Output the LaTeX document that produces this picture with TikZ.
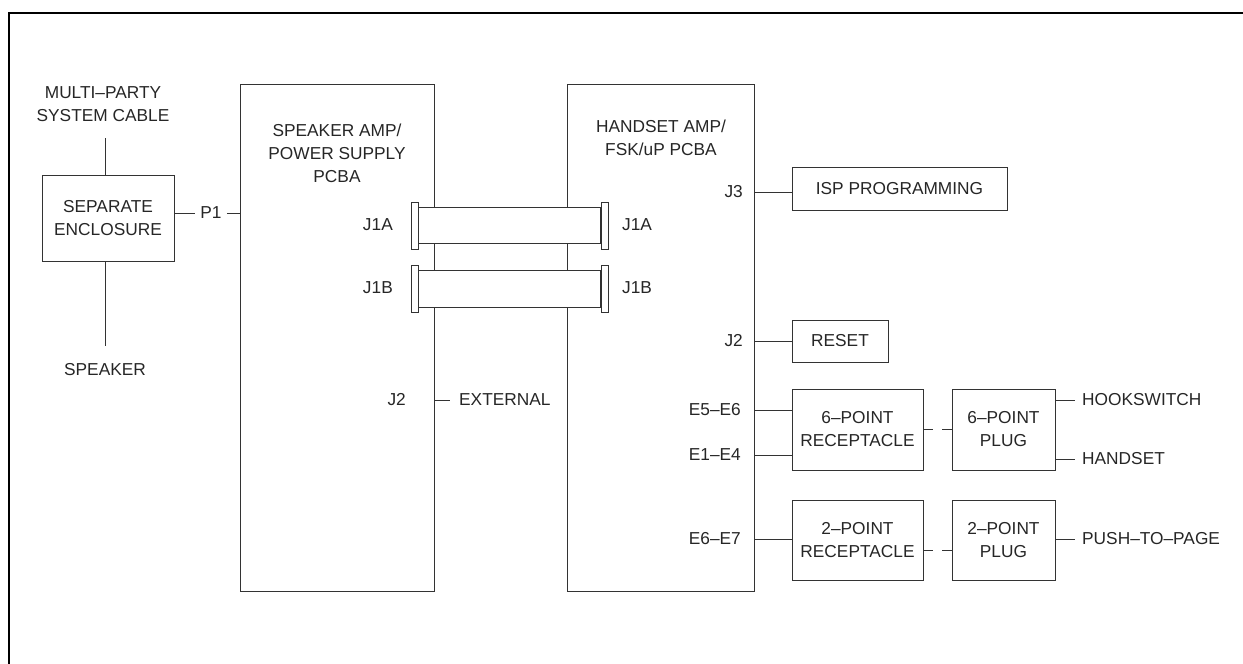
\documentclass[tikz,border=0pt]{standalone}
\usepackage{fontspec}
\setmainfont{Liberation Sans}
\begin{document}
\begin{tikzpicture}[x=1pt,y=-1pt,
  every node/.style={font=\fontsize{17.3}{23}\selectfont, text=black!85},
  lbl/.style={inner sep=0pt, align=center},
  box/.style={draw=black!80, line width=0.9pt, inner sep=0pt, align=center, fill=white},
  conn/.style={draw=black!80, line width=0.9pt, fill=white, inner sep=0pt, minimum width=7pt, minimum height=47pt},
  wire/.style={draw=black!80, line width=0.9pt},
  dwire/.style={wire, dash pattern=on 10pt off 9pt}]
\useasboundingbox (0,0) rectangle (1243,664);
\draw[line width=2pt] (9,664) -- (9,13) -- (1243,13);

% main boards
\node[box, minimum width=194pt, minimum height=507pt] (spk) at (337,337.5) {};
\node[box, minimum width=187pt, minimum height=507pt] (hs) at (660.5,337.5) {};
\node[lbl] (spkt) at (337,153.5) {SPEAKER AMP/\\POWER SUPPLY\\PCBA};
\node[lbl] (hst) at (661,137.5) {HANDSET AMP/\\FSK/uP PCBA};

% separate enclosure
\node[box, minimum width=132pt, minimum height=86pt] (enc) at (108,218) {SEPARATE\\ENCLOSURE};
\node[lbl] (mp) at (103,104) {MULTI--PARTY\\SYSTEM CABLE};
\coordinate (mpc) at (105,138);
\draw[wire] (mpc) -- (mpc |- enc.north);
\node[lbl] (spkr) at (105,370) {SPEAKER};
\coordinate (spc) at (105,346);
\draw[wire] (spc |- enc.south) -- (spc);
\node[lbl, inner xsep=5pt] (p1) at (211,213) {P1};
\draw[wire] (p1.west -| enc.east) -- (p1.west);
\draw[wire] (p1.east) -- (p1.east -| spk.west);

% ribbon cables
\node[conn] (j1al) at (414.5,225.5) {};
\node[conn] (j1ar) at (604.5,225.5) {};
\path[wire, fill=white] ([yshift=18.5pt]j1al.east) rectangle ([yshift=-17.5pt]j1ar.west);
\node[conn] (j1bl) at (414.5,288.5) {};
\node[conn] (j1br) at (604.5,288.5) {};
\path[wire, fill=white] ([yshift=18.5pt]j1bl.east) rectangle ([yshift=-18.5pt]j1br.west);
\node[lbl, anchor=east] (la) at (393,225) {J1A};
\node[lbl, anchor=west] (ra) at (622,225) {J1A};
\node[lbl, anchor=east] (lb) at (393,288) {J1B};
\node[lbl, anchor=west] (rb) at (622,288) {J1B};

% external
\node[lbl, anchor=east] (j2s) at (406,400) {J2};
\node[lbl, anchor=west, inner xsep=9pt] (ext) at (450,400) {EXTERNAL};
\draw[wire] (ext.west -| spk.east) -- (ext.west);

% right side
\node[box, minimum width=215pt, minimum height=43pt] (isp) at (899.5,188.5) {ISP PROGRAMMING};
\node[lbl, anchor=east] (j3) at (743,192) {J3};
\draw[wire] (j3 -| hs.east) -- (j3 -| isp.west);

\node[box, minimum width=96pt, minimum height=42pt] (reset) at (840,341) {RESET};
\node[lbl, anchor=east] (j2h) at (743,341) {J2};
\draw[wire] (j2h -| hs.east) -- (j2h -| reset.west);

\node[box, minimum width=131pt, minimum height=81pt] (rec6) at (857.5,429.5) {6--POINT\\RECEPTACLE};
\node[box, minimum width=103pt, minimum height=81pt] (plug6) at (1003.5,429.5) {6--POINT\\PLUG};
\node[lbl, anchor=east] (e56) at (741,410) {E5--E6};
\node[lbl, anchor=east] (e14) at (741,455) {E1--E4};
\draw[wire] (e56 -| hs.east) -- (e56 -| rec6.west);
\draw[wire] (e14 -| hs.east) -- (e14 -| rec6.west);
\draw[dwire] (rec6.east) -- (plug6.west);
\node[lbl, anchor=west, inner xsep=7pt] (hook) at (1075,400) {HOOKSWITCH};
\node[lbl, anchor=west, inner xsep=7pt] (hset) at (1075,459) {HANDSET};
\draw[wire] (hook.west -| plug6.east) -- (hook.west);
\draw[wire] (hset.west -| plug6.east) -- (hset.west);

\node[box, minimum width=131pt, minimum height=80pt] (rec2) at (857.5,540) {2--POINT\\RECEPTACLE};
\node[box, minimum width=103pt, minimum height=80pt] (plug2) at (1003.5,540) {2--POINT\\PLUG};
\node[lbl, anchor=east] (e67) at (741,539) {E6--E7};
\draw[wire] (e67 -| hs.east) -- (e67 -| rec2.west);
\draw[dwire] ([yshift=-10pt]rec2.east) -- ([yshift=-10pt]plug2.west);
\node[lbl, anchor=west, inner xsep=7pt] (ptp) at (1075,539) {PUSH--TO--PAGE};
\draw[wire] (ptp.west -| plug2.east) -- (ptp.west);
\end{tikzpicture}
\end{document}
